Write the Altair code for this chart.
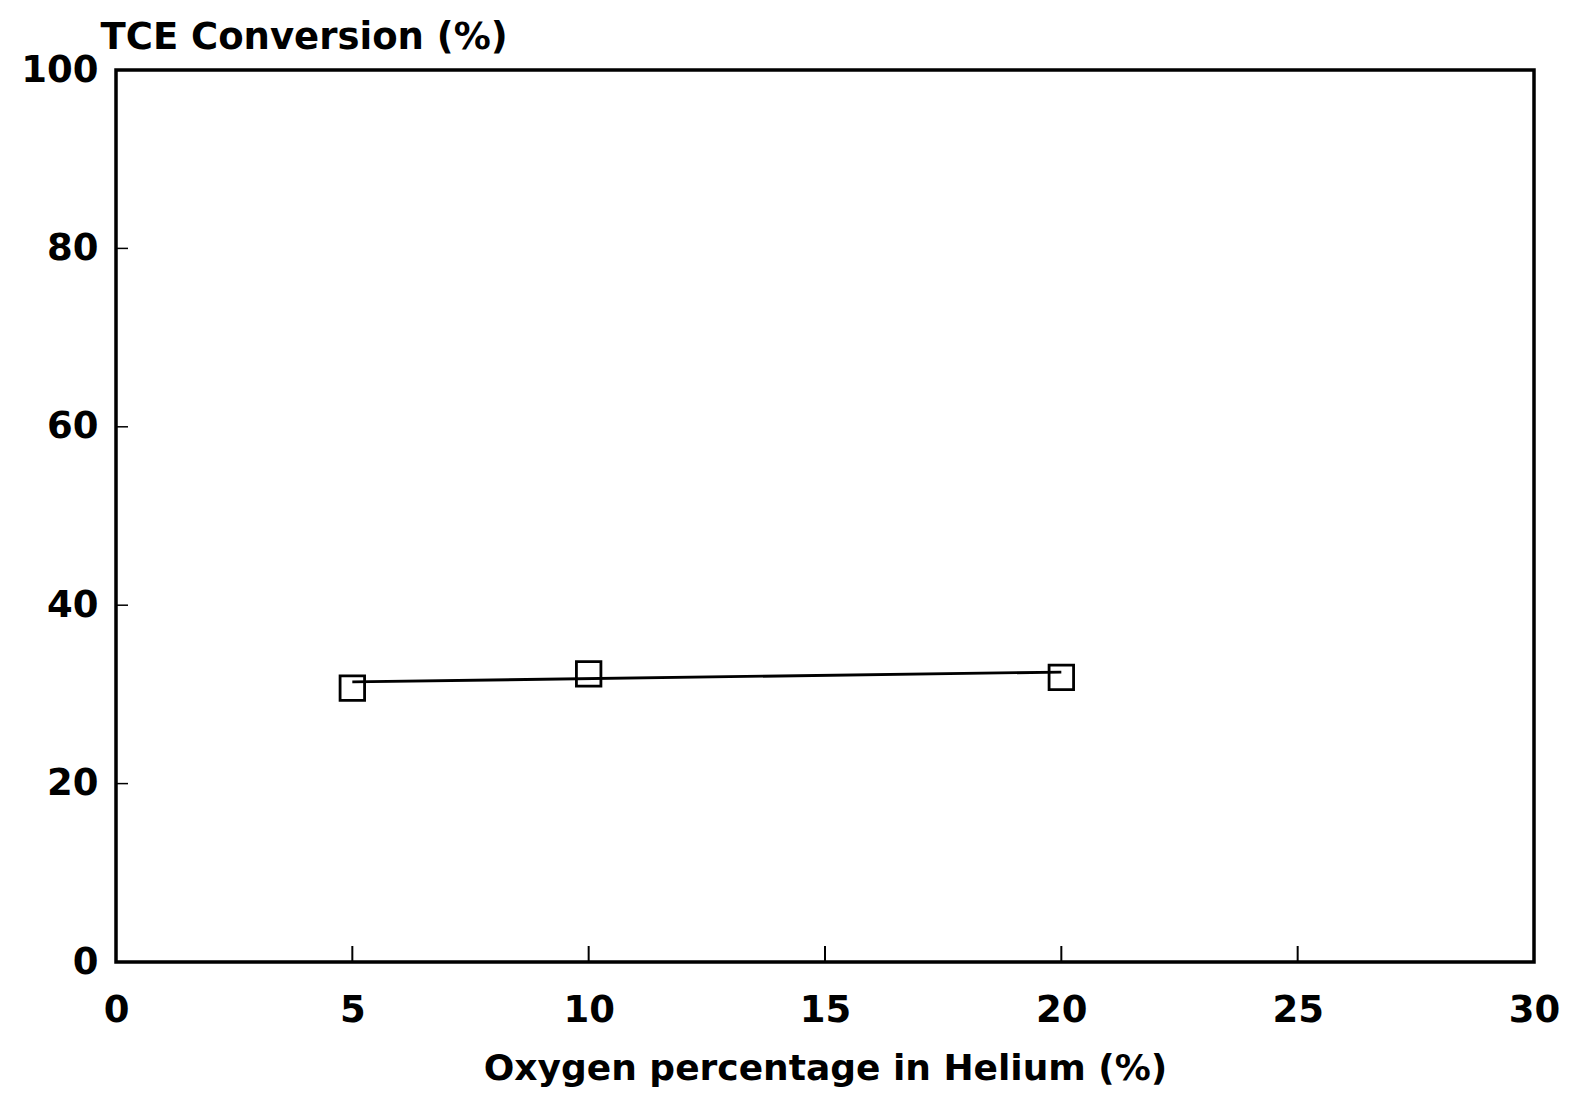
import altair as alt
import pandas as pd

# Measured TCE conversion vs. oxygen content of the helium carrier
oxygen_pct = [5, 10, 20]
tce_conversion = [30.7, 32.3, 31.9]

# Straight trend line drawn through the measurements
trend_x = [5, 20]
trend_y = [31.4, 32.5]

# Tick positions along the axes
x_ticks = [0, 5, 10, 15, 20, 25, 30]
y_ticks = [0, 20, 40, 60, 80, 100]
x_inner_ticks = [5, 10, 15, 20, 25]
y_inner_ticks = [20, 40, 60, 80]

W, H = 1418, 892
FONT = "DejaVu Sans"

points = pd.DataFrame({"oxygen": oxygen_pct, "conversion": tce_conversion})
trend = pd.DataFrame({"oxygen": trend_x, "conversion": trend_y})
xt = pd.DataFrame({"t": x_inner_ticks})
yt = pd.DataFrame({"t": y_inner_ticks})

xscale = alt.Scale(domain=[0, 30], nice=False, zero=False)
yscale = alt.Scale(domain=[0, 100], nice=False, zero=False)

x_axis = alt.Axis(
    values=x_ticks, format="d", grid=False, domain=False, ticks=False,
    labelFont=FONT, labelFontSize=37, labelFontWeight="bold", labelColor="black",
    labelPadding=30, labelFlush=False,
    title="Oxygen percentage in Helium (%)", titleFont=FONT, titleFontSize=36,
    titleFontWeight="bold", titleColor="black", titleY=117,
    titleBaseline="alphabetic",
)
y_axis = alt.Axis(
    values=y_ticks, format="d", grid=False, domain=False, ticks=False,
    labelFont=FONT, labelFontSize=37, labelFontWeight="bold", labelColor="black",
    labelPadding=18, labelFlush=False,
    title="TCE Conversion (%)", titleFont=FONT, titleFontSize=37,
    titleFontWeight="bold", titleColor="black", titleAngle=0,
    titleAlign="left", titleBaseline="alphabetic", titleX=-16, titleY=-22,
)

line = alt.Chart(trend).mark_line(color="black", strokeWidth=2.8).encode(
    x=alt.X("oxygen:Q", scale=xscale, axis=x_axis),
    y=alt.Y("conversion:Q", scale=yscale, axis=y_axis),
)

markers = alt.Chart(points).mark_point(
    shape="square", filled=False, size=600, color="black", strokeWidth=2.8, opacity=1
).encode(
    x=alt.X("oxygen:Q", scale=xscale),
    y=alt.Y("conversion:Q", scale=yscale),
)

# Inward-pointing tick marks on the bottom and left edges
x_tick_marks = alt.Chart(xt).mark_rule(color="black", strokeWidth=2).encode(
    x=alt.X("t:Q", scale=xscale),
    y=alt.value(H),
    y2=alt.value(H - 16),
)
y_tick_marks = alt.Chart(yt).mark_rule(color="black", strokeWidth=1.5).encode(
    y=alt.Y("t:Q", scale=yscale),
    x=alt.value(0),
    x2=alt.value(12),
)

chart = (
    alt.layer(line, markers, x_tick_marks, y_tick_marks)
    .properties(
        width=W,
        height=H,
        autosize=alt.AutoSizeParams(type="none"),
        padding={"left": 116, "top": 70, "right": 43, "bottom": 133},
        background="white",
    )
    .configure_view(stroke="black", strokeWidth=3.5)
)

chart.save("out.html", embed_options={"renderer": "svg", "actions": False})
